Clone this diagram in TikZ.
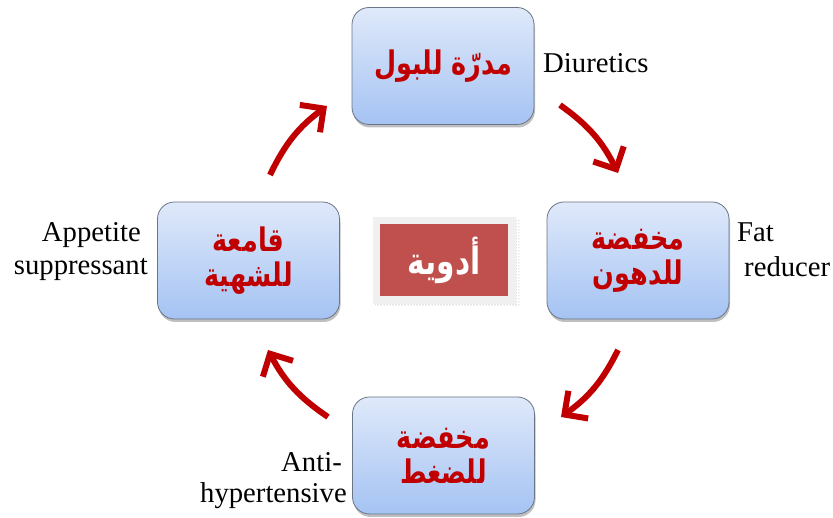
\documentclass[tikz,border=0pt]{standalone}
\usepackage{fontspec}
\usepackage{graphicx}
\setmainfont{Liberation Serif}
\newfontfamily\arabicfont[Script=Arabic]{DejaVu Sans}
\TeXXeTstate=1
\usetikzlibrary{arrows.meta,shadows,patterns}
\definecolor{arred}{HTML}{C00000}
\definecolor{boxtop}{HTML}{DFE9FA}
\definecolor{boxbot}{HTML}{A5C3F3}
\definecolor{boxline}{HTML}{6A7585}
\definecolor{midred}{HTML}{C0504D}
\definecolor{midgray}{HTML}{F0F0F0}
\newcommand{\artxt}[1]{\scalebox{1.02}[1.3]{\beginR #1\endR}}
\tikzset{
  drugbox/.style={rounded corners=17pt, draw=boxline, line width=0.8pt,
    top color=boxtop, bottom color=boxbot, minimum width=182pt, minimum height=117pt,
    inner sep=0pt, align=center, text=arred,
    font=\arabicfont\bfseries\fontsize{25}{35}\selectfont,
    drop shadow={shadow xshift=1pt, shadow yshift=-3pt, opacity=0.25, fill=black}},
  engl/.style={inner sep=0pt, font=\fontsize{28.7}{33}\selectfont},
  cyclearrow/.style={draw=arred, line width=6pt,
    -{Straight Barb[length=17pt,width=34pt,line width=6pt]}}
}
\begin{document}
\begin{tikzpicture}[x=1pt,y=1pt]
\useasboundingbox[fill=white] (0,0) rectangle (833,518);
% boxes
\node[drugbox] (top) at (443,452) {\artxt{مدرّة للبول}};
\node[drugbox] (right) at (638,257.5) {\artxt{مخفضة}\\\artxt{للدهون}};
\node[drugbox] (left) at (248.5,257.5) {\artxt{قامعة}\\\artxt{للشهية}};
\node[drugbox] (bottom) at (443.5,62.5) {\artxt{مخفضة}\\\artxt{للضغط}};
% centre
\fill[pattern=dots, pattern color=gray] (375,211) rectangle (519,298);
\node[fill=midred, draw=midgray, line width=7.5pt, minimum width=135.5pt, minimum height=79.5pt,
  inner sep=0pt, text=white,
  font=\arabicfont\bfseries\fontsize{29}{34}\selectfont] (mid) at (444,257.5) {\artxt{أدوية}};
% english labels
\node[engl, anchor=base west] (diur) at (543,445) {Diuretics};
\node[engl, anchor=base west] (fat) at (737,276) {Fat};
\node[engl, anchor=base west] (red) at (744,241) {reducer};
\node[engl, anchor=base east] (app) at (141,276) {Appetite};
\node[engl, anchor=base east] (supp) at (148,243) {suppressant};
\node[engl, anchor=base east] (anti) at (342,46) {Anti-};
\node[engl, anchor=base east] (hyp) at (347,15) {hypertensive};
% arrows
\coordinate (a1s) at (270,343); \coordinate (a1e) at (327,412);
\coordinate (a2s) at (560,413); \coordinate (a2e) at (618,345);
\coordinate (a3s) at (618,168); \coordinate (a3e) at (561,101);
\coordinate (a4s) at (328,101); \coordinate (a4e) at (268,168);
\draw[cyclearrow] (a1s) to[bend left=14] (a1e);
\draw[cyclearrow] (a2s) to[bend left=14] (a2e);
\draw[cyclearrow] (a3s) to[bend left=14] (a3e);
\draw[cyclearrow] (a4s) to[bend left=14] (a4e);
\end{tikzpicture}
\end{document}
